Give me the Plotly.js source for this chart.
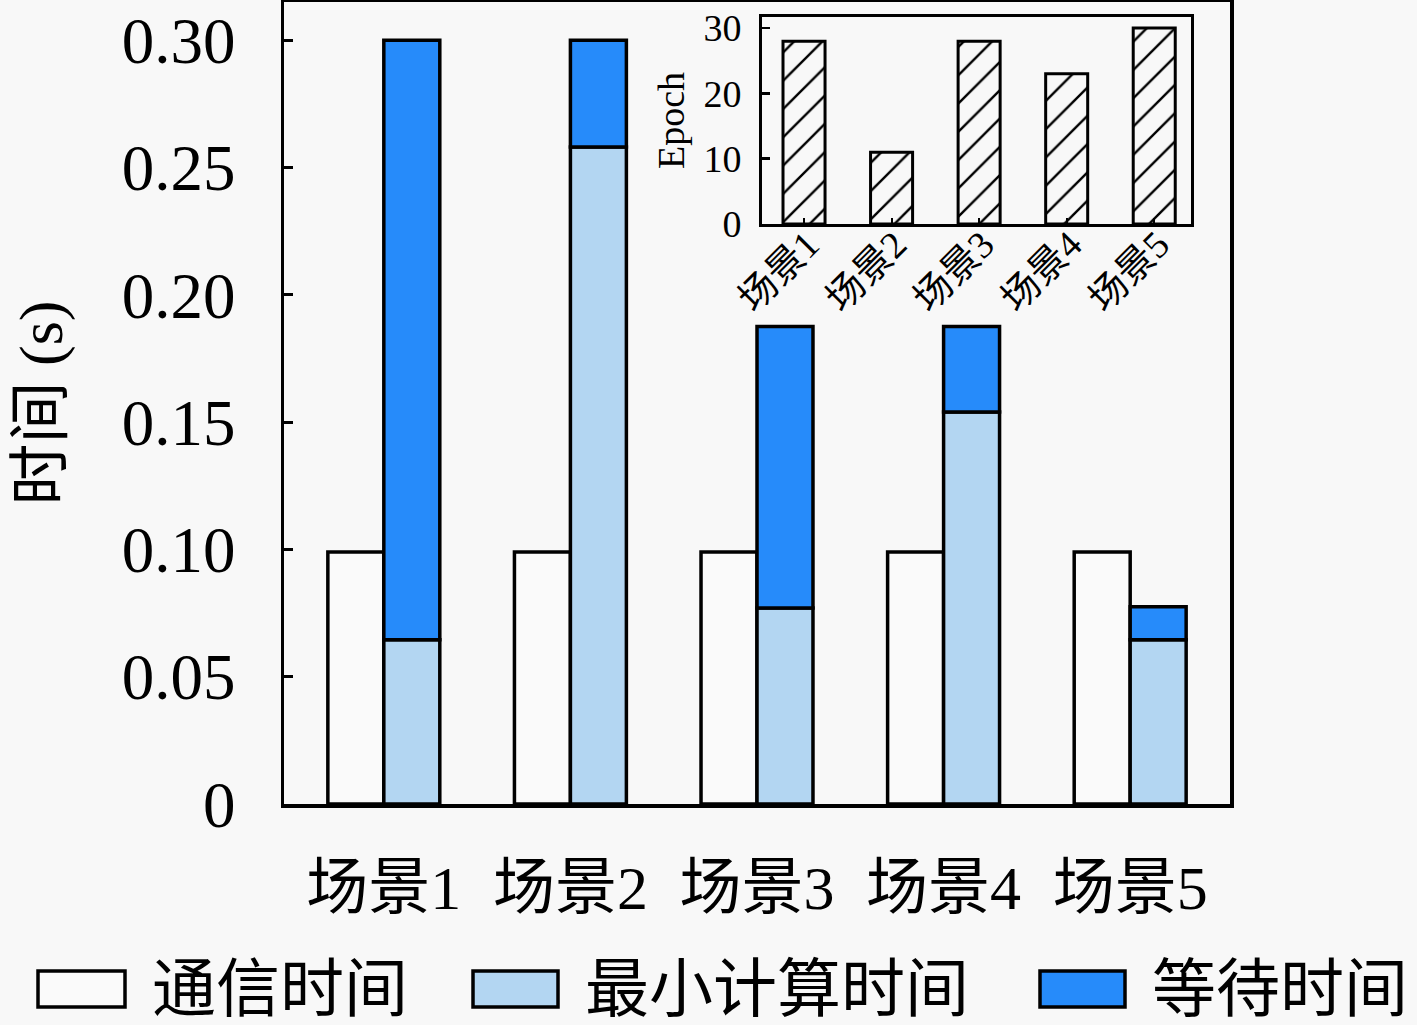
<!DOCTYPE html>
<html>
<head>
<meta charset="utf-8">
<script src="https://cdn.plot.ly/plotly-3.0.1.min.js"></script>
<style>
  body { margin: 0; background: #f8f8f8; }
  #chart { width: 1417px; height: 1025px; }
</style>
</head>
<body>
<div id="chart"></div>
<script>
// data
const scenes = ['场景1', '场景2', '场景3', '场景4', '场景5']
const commTime = [0.099, 0.099, 0.099, 0.099, 0.099]
const minCompute = [0.0645, 0.258, 0.077, 0.154, 0.0645]
const waitTime = [0.2355, 0.042, 0.1105, 0.0335, 0.013]
const epochs = [28, 11, 28, 23, 30]
const seriesNames = ['通信时间', '最小计算时间', '等待时间']
const yTicks = [0, 0.05, 0.10, 0.15, 0.20, 0.25, 0.30]
const yTickText = ['0', '0.05', '0.10', '0.15', '0.20', '0.25', '0.30']

const FONT = "'Liberation Serif', 'Noto Sans CJK SC', serif"
const colors = ['#fafafa', '#b3d6f2', '#268bfa']

// plot area in pixels (left 284, right 1230, top 2, bottom 804)
const px = x => (x - 284) / 946
const py = y => (804 - y) / 802

const barLine = { color: '#000', width: 3.5 }

const traces = [
	{
		type: 'bar', x: scenes, y: commTime, name: seriesNames[0],
		offset: -0.3, width: 0.3,
		marker: { color: colors[0], line: barLine }
	},
	{
		type: 'bar', x: scenes, y: minCompute, name: seriesNames[1],
		offset: 0, width: 0.3,
		marker: { color: colors[1], line: barLine }
	},
	{
		type: 'bar', x: scenes, y: waitTime, base: minCompute, name: seriesNames[2],
		offset: 0, width: 0.3,
		marker: { color: colors[2], line: barLine }
	},
	// inset
	{
		type: 'bar', x: scenes, y: epochs, xaxis: 'x2', yaxis: 'y2',
		width: 0.48,
		marker: {
			color: '#f8f8f8',
			line: { color: '#000', width: 3 },
			pattern: { shape: '/', fgcolor: '#000', bgcolor: '#f8f8f8', size: 20, solidity: 0.12 }
		}
	}
]

// custom legend: big boxes like the original
const shapes = []
const annotations = []
const legendBoxes = [[38, 125], [473, 558], [1040, 1125]]
const legendText = [150, 583, 1150]
seriesNames.forEach((name, i) => {
	shapes.push({
		type: 'rect', xref: 'paper', yref: 'paper',
		x0: px(legendBoxes[i][0]), x1: px(legendBoxes[i][1]),
		y0: py(1007), y1: py(971),
		fillcolor: colors[i], line: { color: '#000', width: 3.5 }
	})
	annotations.push({
		xref: 'paper', yref: 'paper', x: px(legendText[i]), y: py(990),
		xanchor: 'left', yanchor: 'middle', showarrow: false,
		text: name, font: { family: FONT, size: 64, color: '#000' }
	})
})

const layout = {
	width: 1417, height: 1025,
	margin: { l: 284, r: 187, t: 2, b: 221 },
	paper_bgcolor: '#f8f8f8',
	plot_bgcolor: '#f8f8f8',
	barmode: 'overlay',
	showlegend: false,
	font: { family: FONT, color: '#000' },
	xaxis: {
		type: 'category', range: [-0.535, 4.535],
		showline: true, linecolor: '#000', linewidth: 3.5, mirror: true,
		ticks: '', showgrid: false, zeroline: false,
		tickfont: { family: FONT, size: 62 }, ticklabelstandoff: 27
	},
	yaxis: {
		range: [0, 0.315], tickvals: yTicks, ticktext: yTickText,
		showline: true, linecolor: '#000', linewidth: 3.5, mirror: true,
		ticks: 'inside', ticklen: 9, tickwidth: 3, tickcolor: '#000',
		showgrid: false, zeroline: false,
		tickfont: { family: FONT, size: 65 }, ticklabelstandoff: 32,
		title: { text: '时间 (s)', font: { family: FONT, size: 62 }, standoff: 40 }
	},
	xaxis2: {
		type: 'category', domain: [px(762), px(1191)], anchor: 'y2', range: [-0.48, 4.42],
		showline: true, linecolor: '#000', linewidth: 3, mirror: true,
		ticks: 'inside', ticklen: 6, tickwidth: 2, tickcolor: '#000',
		showgrid: false, zeroline: false, tickangle: -45,
		tickfont: { family: FONT, size: 38 }, ticklabelstandoff: -20, ticklabelshift: 4
	},
	yaxis2: {
		domain: [py(224), py(17)], anchor: 'x2', range: [0, 31.7],
		tickvals: [0, 10, 20, 30],
		showline: true, linecolor: '#000', linewidth: 3, mirror: true,
		ticks: 'inside', ticklen: 8, tickwidth: 2.5, tickcolor: '#000',
		showgrid: false, zeroline: false,
		tickfont: { family: FONT, size: 38 }, ticklabelstandoff: 10,
		title: { text: 'Epoch', font: { family: FONT, size: 38 }, standoff: 8 }
	},
	shapes: shapes,
	annotations: annotations
}

Plotly.newPlot('chart', traces, layout, { displayModeBar: false, staticPlot: true })
</script>
</body>
</html>
